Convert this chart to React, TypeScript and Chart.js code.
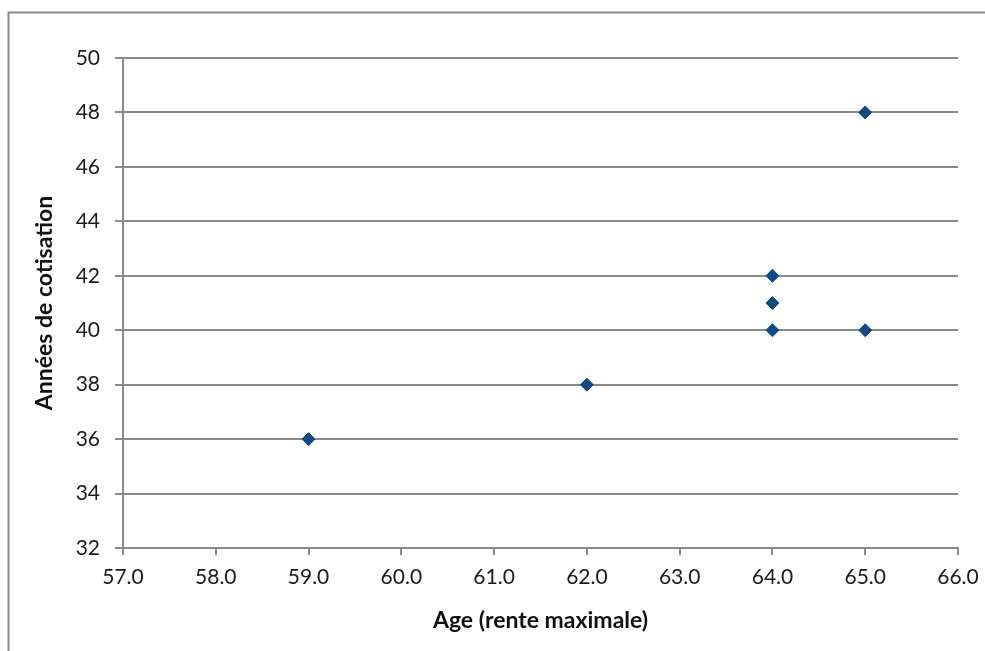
import React, { useEffect, useRef } from "react";
import { Chart, registerables } from "chart.js";

Chart.register(...registerables);

const ages = [59, 62, 64, 64, 64, 65, 65];
const years = [36, 38, 40, 41, 42, 40, 48];
const xTitle = "Age (rente maximale)";
const yTitle = "Années de cotisation";

const GRAY = "#8a8a8a";
const MARK = "#0C4A8A";
const FONT = "Lato, 'Open Sans', sans-serif";

const framePlugin = {
  id: "frame",
  afterDraw(chart: any) {
    const ctx = chart.ctx;
    ctx.save();
    ctx.strokeStyle = GRAY;
    ctx.lineWidth = 2;
    ctx.beginPath();
    ctx.moveTo(8.5, chart.height);
    ctx.lineTo(8.5, 12.5);
    ctx.lineTo(chart.width, 12.5);
    ctx.stroke();
    ctx.restore();
  },
};

export default function App() {
  const ref = useRef<HTMLCanvasElement>(null);
  useEffect(() => {
    if (!ref.current) return;
    const points = ages.map((a, i) => ({ x: a, y: years[i] }));
    const chart = new Chart(ref.current, {
      type: "scatter",
      data: {
        datasets: [
          {
            data: points,
            pointStyle: "rectRot",
            pointRadius: 6.5,
            pointHoverRadius: 6.5,
            backgroundColor: MARK,
            borderColor: MARK,
            borderWidth: 1,
          },
        ],
      },
      options: {
        animation: false,
        responsive: false,
        devicePixelRatio: 1,
        layout: { padding: { left: 0, top: 58, right: 27, bottom: 0 } },
        plugins: { legend: { display: false }, tooltip: { enabled: false } },
        scales: {
          x: {
            type: "linear",
            min: 57,
            max: 66,
            afterFit: (s: any) => {
              s.height = 103;
              s.paddingRight = 0;
              s.paddingLeft = 0;
            },
            ticks: {
              stepSize: 1,
              callback: (v: any) => Number(v).toFixed(1),
              color: "#1a1a1a",
              font: { family: FONT, size: 21 },
              padding: 10,
              maxRotation: 0,
            },
            grid: {
              drawOnChartArea: false,
              drawTicks: true,
              tickLength: 7,
              color: GRAY,
              lineWidth: 2,
            },
            border: { display: true, color: GRAY, width: 2 },
            title: {
              display: true,
              text: xTitle,
              color: "#111",
              font: { family: FONT, size: 23, weight: "bold" },
              padding: { top: 0, bottom: 17 },
            },
          },
          y: {
            type: "linear",
            min: 32,
            max: 50,
            afterFit: (s: any) => {
              s.width = 123;
            },
            ticks: {
              stepSize: 2,
              color: "#1a1a1a",
              font: { family: FONT, size: 21 },
              padding: 15,
            },
            grid: {
              drawOnChartArea: true,
              drawTicks: true,
              tickLength: 8,
              color: GRAY,
              lineWidth: 2,
            },
            border: { display: true, color: GRAY, width: 2 },
            title: {
              display: true,
              text: yTitle,
              color: "#111",
              font: { family: FONT, size: 23, weight: "bold" },
              padding: { top: 31, bottom: 0 },
            },
          },
        },
      },
      plugins: [framePlugin],
    });
    return () => chart.destroy();
  }, []);
  return (
    <div style={{ position: "absolute", left: 0, top: 0, width: 985, height: 651, background: "#fff" }}>
      <canvas ref={ref} width={985} height={651} style={{ display: "block" }} />
    </div>
  );
}
